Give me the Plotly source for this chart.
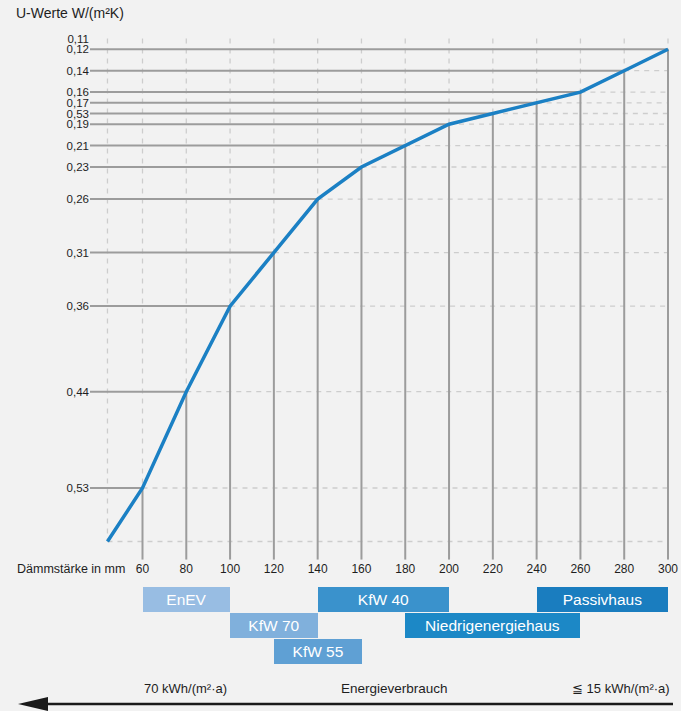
import plotly.graph_objects as go

# Dämmstärke (mm) und U-Werte W/(m²K) der Kurvenpunkte
thickness_mm = [60, 80, 100, 120, 140, 160, 180, 200, 220, 240, 260, 280, 300]
u_values = [0.53, 0.44, 0.36, 0.31, 0.26, 0.23, 0.21, 0.19, 0.18, 0.17, 0.16, 0.14, 0.12]
start_mm = 44
start_u = 0.58

# Beschriftung der U-Achse (wie im Original, inkl. "0,53" bei 220 mm)
u_tick_vals = [0.11, 0.12, 0.14, 0.16, 0.17, 0.18, 0.19, 0.21, 0.23, 0.26, 0.31, 0.36, 0.44, 0.53]
u_tick_text = ["0,11", "0,12", "0,14", "0,16", "0,17", "0,53", "0,19",
               "0,21", "0,23", "0,26", "0,31", "0,36", "0,44", "0,53"]
mm_ticks = [60, 80, 100, 120, 140, 160, 180, 200, 220, 240, 260, 280, 300]

# Standards als Bereiche der Dämmstärke
band_labels = ["EnEV", "KfW 70", "KfW 55", "KfW 40", "Niedrigenergiehaus", "Passivhaus"]
band_start = [60, 100, 120, 140, 180, 240]
band_end = [100, 140, 160, 200, 260, 300]
band_row = [1, 2, 3, 1, 2, 1]
band_colors = ["#98bde3", "#80b0dc", "#5fa0d4", "#3a92cc", "#1c88c6", "#1a7dbf"]

W, H = 681, 711
BG = "#f2f2f2"
FONT = "Liberation Sans"
TXT = "#1e1e1e"


def fx(px):
    return px / W


def fy(py):
    return 1 - py / H


# axis geometry (pixels)
x_lo, x_hi = 36, 301.5
px_per_mm = 2.1896
x_left_px = 142.5 - (60 - x_lo) * px_per_mm
x_right_px = 142.5 + (x_hi - 60) * px_per_mm
u_top, u_bottom = 0.105, 0.597
px_per_u = 1070
y_top_px = 488 - (0.53 - u_top) * px_per_u
y_bot_px = 488 + (u_bottom - 0.53) * px_per_u

solid = dict(color="#9c9c9c", width=2)
dashed = dict(color="#cdcdcd", width=1.3, dash="5px,5px")

shapes = []
# start point: only dashed guides
shapes.append(dict(type="line", xref="x", yref="y", x0=start_mm, x1=start_mm,
                   y0=0.11, y1=start_u, line=dashed, layer="below"))
shapes.append(dict(type="line", xref="x", yref="y", x0=start_mm, x1=300,
                   y0=start_u, y1=start_u, line=dashed, layer="below"))
for mm, u in zip(thickness_mm, u_values):
    shapes.append(dict(type="line", xref="x", yref="y", x0=mm, x1=mm,
                       y0=0.11, y1=u, line=dashed, layer="below"))
    shapes.append(dict(type="line", xref="x", yref="y", x0=mm, x1=300,
                       y0=u, y1=u, line=dashed, layer="below"))
for mm, u in zip(thickness_mm, u_values):
    shapes.append(dict(type="line", xref="x", yref="y", x0=x_lo, x1=mm,
                       y0=u, y1=u, line=solid, layer="below"))
    shapes.append(dict(type="line", xref="x", yref="y", x0=mm, x1=mm,
                       y0=u, y1=u_bottom, line=solid, layer="below"))

# Energieverbrauch arrow
arrow_y = 704
shapes.append(dict(type="line", xref="paper", yref="paper",
                   x0=fx(44), x1=fx(673), y0=fy(arrow_y), y1=fy(arrow_y),
                   line=dict(color="#1a1a1a", width=2.5)))
shapes.append(dict(type="path", xref="paper", yref="paper",
                   path=f"M {fx(18)},{fy(arrow_y)} L {fx(48)},{fy(arrow_y - 7)} "
                        f"L {fx(48)},{fy(arrow_y + 7)} Z",
                   fillcolor="#1a1a1a", line=dict(width=0)))

fig = go.Figure()

fig.add_trace(go.Scatter(
    x=[start_mm] + thickness_mm,
    y=[start_u] + u_values,
    mode="lines",
    line=dict(color="#1b80c4", width=3.5),
    hoverinfo="x+y",
    showlegend=False,
))

fig.add_trace(go.Bar(
    x=[e - s for s, e in zip(band_start, band_end)],
    base=band_start,
    y=band_row,
    orientation="h",
    width=0.95,
    marker=dict(color=band_colors, line=dict(width=0)),
    text=band_labels,
    textposition="inside",
    insidetextanchor="middle",
    textfont=dict(color="white", size=15.5, family=FONT),
    xaxis="x2",
    yaxis="y2",
    showlegend=False,
))

annotations = [
    dict(text="U-Werte W/(m²K)", x=fx(14), y=fy(13), xref="paper", yref="paper",
         xanchor="left", yanchor="middle", showarrow=False,
         font=dict(size=14, color=TXT, family=FONT)),
    dict(text="Dämmstärke in mm", x=fx(15), y=fy(569), xref="paper", yref="paper",
         xanchor="left", yanchor="middle", showarrow=False,
         font=dict(size=12.5, color=TXT, family=FONT)),
    dict(text="70 kWh/(m²·a)", x=fx(185), y=fy(688), xref="paper", yref="paper",
         xanchor="center", yanchor="middle", showarrow=False,
         font=dict(size=13, color=TXT, family=FONT)),
    dict(text="Energieverbrauch", x=fx(395), y=fy(688), xref="paper", yref="paper",
         xanchor="center", yanchor="middle", showarrow=False,
         font=dict(size=13.5, color=TXT, family=FONT)),
    dict(text="≦ 15 kWh/(m²·a)", x=fx(672), y=fy(688), xref="paper", yref="paper",
         xanchor="right", yanchor="middle", showarrow=False,
         font=dict(size=13, color=TXT, family=FONT)),
]

fig.update_layout(
    width=W, height=H,
    autosize=False,
    margin=dict(l=0, r=0, t=0, b=0),
    paper_bgcolor=BG, plot_bgcolor=BG,
    showlegend=False,
    shapes=shapes,
    annotations=annotations,
    bargap=0,
    xaxis=dict(
        domain=[fx(x_left_px), fx(x_right_px)],
        range=[x_lo, x_hi],
        tickvals=mm_ticks,
        ticks="", showgrid=False, zeroline=False, showline=False,
        tickfont=dict(size=12, color=TXT, family=FONT),
        anchor="y", automargin=False,
    ),
    yaxis=dict(
        domain=[fy(y_bot_px), fy(y_top_px)],
        range=[u_bottom, u_top],
        tickvals=u_tick_vals,
        ticktext=u_tick_text,
        ticks="",
        showgrid=False, zeroline=False, showline=False,
        tickfont=dict(size=11.5, color=TXT, family=FONT),
        anchor="x", automargin=False,
    ),
    xaxis2=dict(
        domain=[fx(x_left_px), fx(x_right_px)],
        range=[x_lo, x_hi],
        visible=False, anchor="y2",
    ),
    yaxis2=dict(
        domain=[fy(665), fy(586)],
        range=[3.5, 0.5],
        visible=False, anchor="x2",
    ),
)

fig.write_html(
    "out.html",
    config={"responsive": False, "displayModeBar": False},
    post_script="document.body.style.margin='0';document.body.style.background='#f2f2f2';",
)
